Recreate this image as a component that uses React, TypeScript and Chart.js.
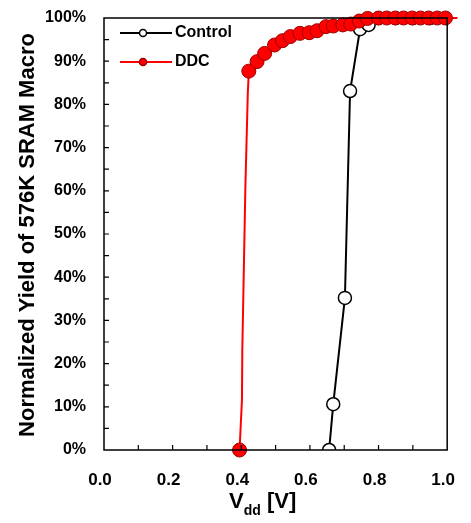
import React, { useEffect, useRef } from "react";
import { Chart, registerables } from "chart.js";
Chart.register(...registerables);

// Control series (Vdd [V], normalized yield [%])
const controlV = [0.656, 0.668, 0.702, 0.717, 0.746, 0.771, 0.8, 0.85, 0.9, 0.95, 1.0];
const controlY = [0, 10.6, 35.2, 83.1, 97.4, 98.4, 100, 100, 100, 100, 100];

// DDC series
const ddcV = [0.395, 0.402, 0.403, 0.412, 0.419, 0.422, 0.446, 0.468, 0.497, 0.52, 0.543, 0.571, 0.598, 0.621, 0.647, 0.668, 0.696, 0.719, 0.744, 0.768, 0.8, 0.824, 0.849, 0.873, 0.898, 0.922, 0.946, 0.971, 0.995, 1.03];
const ddcY = [0, 11.6, 23.1, 61, 82.6, 87.7, 89.9, 91.8, 93.75, 94.75, 95.7, 96.45, 96.6, 97.05, 98, 98.15, 98.4, 98.6, 99.3, 99.9, 100, 100, 100, 100, 100, 100, 100, 100, 100, 100];
// which DDC points carry a marker (1) or are line-only (0)
const ddcMarked = [1, 0, 0, 0, 0, 1, 1, 1, 1, 1, 1, 1, 1, 1, 1, 1, 1, 1, 1, 1, 1, 1, 1, 1, 1, 1, 1, 1, 1, 0];

const seriesNames = ["Control", "DDC"];
const yAxisTitle = "Normalized Yield of 576K SRAM Macro";
const xTitleMain = "V";
const xTitleSub = "dd";
const xTitleRest = " [V]";

const FONT = "Arial, 'Liberation Sans', sans-serif";

export default function App() {
  const ref = useRef<HTMLCanvasElement | null>(null);
  useEffect(() => {
    const canvas = ref.current;
    if (!canvas) return;
    const decor = {
      id: "decor",
      afterDraw(chart: any) {
        const ctx = chart.ctx;
        const a = chart.chartArea;
        const xs = chart.scales.x;
        const ys = chart.scales.y;
        ctx.save();
        ctx.strokeStyle = "#000";
        ctx.lineWidth = 1.5;
        ctx.strokeRect(a.left, a.top, a.right - a.left, a.bottom - a.top);
        // inward ticks
        ctx.lineWidth = 1.2;
        ctx.beginPath();
        for (let i = 1; i < 10; i++) {
          const px = xs.getPixelForValue(i / 10);
          ctx.moveTo(px, a.bottom);
          ctx.lineTo(px, a.bottom - 5);
        }
        for (let i = 1; i < 20; i++) {
          const py = ys.getPixelForValue(i * 5);
          ctx.moveTo(a.left, py);
          ctx.lineTo(a.left + 5, py);
        }
        ctx.stroke();
        // y title
        ctx.fillStyle = "#000";
        ctx.font = `bold 22px ${FONT}`;
        ctx.textAlign = "center";
        ctx.textBaseline = "middle";
        ctx.translate(28, 235);
        ctx.rotate(-Math.PI / 2);
        ctx.fillText(yAxisTitle, 0, 0);
        ctx.setTransform(1, 0, 0, 1, 0, 0);
        // x title
        ctx.textAlign = "left";
        ctx.textBaseline = "alphabetic";
        ctx.font = `bold 22px ${FONT}`;
        let x = 229;
        ctx.fillText(xTitleMain, x, 508);
        x += ctx.measureText(xTitleMain).width;
        ctx.font = `bold 14px ${FONT}`;
        ctx.fillText(xTitleSub, x, 515);
        x += ctx.measureText(xTitleSub).width;
        ctx.font = `bold 22px ${FONT}`;
        ctx.fillText(xTitleRest, x, 508);
        // legend
        const items = [
          { y: 33, line: "#000", fill: "#fff", stroke: "#000", name: seriesNames[0] },
          { y: 62, line: "#ff0000", fill: "#ff0000", stroke: "#990000", name: seriesNames[1] },
        ];
        for (const it of items) {
          ctx.strokeStyle = it.line;
          ctx.lineWidth = 2;
          ctx.beginPath();
          ctx.moveTo(120, it.y);
          ctx.lineTo(172, it.y);
          ctx.stroke();
          ctx.beginPath();
          ctx.arc(143, it.y, 3.5, 0, Math.PI * 2);
          ctx.fillStyle = it.fill;
          ctx.fill();
          ctx.strokeStyle = it.stroke;
          ctx.lineWidth = 1.5;
          ctx.stroke();
          ctx.fillStyle = "#000";
          ctx.font = `bold 16px ${FONT}`;
          ctx.textBaseline = "middle";
          ctx.fillText(it.name, 175, it.y);
        }
        ctx.restore();
      },
    };
    const chart = new Chart(canvas, {
      type: "line",
      data: {
        datasets: [
          {
            label: seriesNames[1],
            data: ddcV.map((v, i) => ({ x: v, y: ddcY[i] })),
            borderColor: "#ff0000",
            borderWidth: 2,
            backgroundColor: "#ff0000",
            pointBackgroundColor: "#ff0000",
            pointBorderColor: "#990000",
            pointBorderWidth: 1,
            pointRadius: ddcMarked.map((m) => (m ? 7 : 0)),
            clip: false as any,
          },
          {
            label: seriesNames[0],
            data: controlV.map((v, i) => ({ x: v, y: controlY[i] })),
            borderColor: "#000",
            borderWidth: 2,
            pointBackgroundColor: "#fff",
            pointBorderColor: "#000",
            pointBorderWidth: 1.5,
            pointRadius: 6.5,
          },
        ],
      },
      options: {
        animation: false,
        responsive: false,
        events: [],
        layout: { padding: { left: 0, right: 17.5, top: 18, bottom: 0 } },
        plugins: { legend: { display: false }, tooltip: { enabled: false } },
        scales: {
          x: {
            type: "linear",
            min: 0,
            max: 1,
            grid: { display: false },
            border: { display: false },
            ticks: {
              stepSize: 0.2,
              color: "#000",
              padding: 12,
              labelOffset: -4,
              font: { family: FONT, size: 17, weight: "bold" },
              callback: (v: any) => Number(v).toFixed(1),
              maxRotation: 0,
            },
            afterFit: (s: any) => {
              s.height = 73;
            },
          },
          y: {
            type: "linear",
            min: 0,
            max: 100,
            grid: { display: false },
            border: { display: false },
            ticks: {
              stepSize: 10,
              color: "#000",
              padding: 10,
              font: { family: FONT, size: 16, weight: "bold" },
              callback: (v: any) => `${v}%`,
            },
            afterFit: (s: any) => {
              s.width = 104;
              s.paddingTop = 0;
              s.paddingBottom = 0;
            },
          },
        },
      },
      plugins: [decor],
    } as any);
    return () => chart.destroy();
  }, []);
  return (
    <div style={{ position: "fixed", left: 0, top: 0, width: 471, height: 523, background: "#fff" }}>
      <canvas ref={ref} width={471} height={523} />
    </div>
  );
}
